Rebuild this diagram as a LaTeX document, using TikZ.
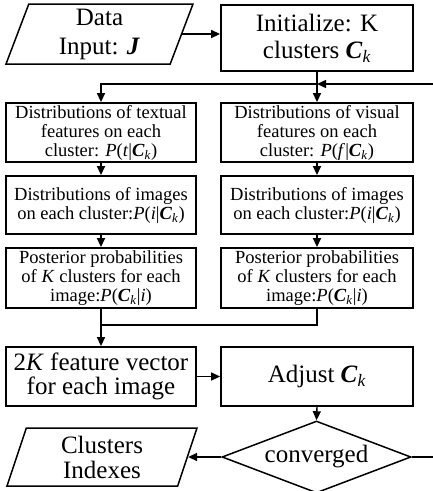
\documentclass[tikz,border=0pt]{standalone}
\usepackage{fontspec}
\setmainfont{Liberation Serif}
\usetikzlibrary{shapes.geometric,arrows.meta}
\newcommand{\Ck}{\textbf{\textit{C}}\textsubscript{\textit{k}}}
\begin{document}
\begin{tikzpicture}[x=1pt,y=-1pt,
  box/.style={draw, line width=1.8pt, inner sep=1pt, align=center},
  bigtxt/.style={font=\fontsize{25}{27}\selectfont},
  smalltxt/.style={font=\fontsize{18.5}{19}\selectfont},
  para/.style={draw, line width=1.5pt, trapezium, trapezium left angle=66.6, trapezium right angle=113.4, trapezium stretches body, inner sep=1pt, align=center},
  arr/.style={-{Triangle[length=9pt,width=8pt]}, line width=1.4pt},
  conn/.style={line width=1.4pt}]
\useasboundingbox (0,0) rectangle (432,491);
\fill[white] (0,0) rectangle (432,491);
% top
\node[para, bigtxt, font=\fontsize{25}{29}\selectfont, minimum width=187, minimum height=60] (data) at (99.5,34) {Data\\Input: \textbf{\textit{J}}};
\node[box, bigtxt, minimum width=192, minimum height=66] (init) at (317,38) {Initialize: K\\clusters \Ck};
% row 1
\node[box, smalltxt, minimum width=190, minimum height=59] (r1l) at (101,132.5) {Distributions of textual\\features on each\\cluster: \textit{P}(\textit{t}|\Ck)};
\node[box, smalltxt, minimum width=192, minimum height=59] (r1r) at (317,132.5) {Distributions of visual\\features on each\\cluster: \textit{P}(\textit{f}|\Ck)};
% row 2
\node[box, smalltxt, minimum width=190, minimum height=58] (r2l) at (101,205) {Distributions of images\\on each cluster:\textit{P}(\textit{i}|\Ck)};
\node[box, smalltxt, minimum width=192, minimum height=58] (r2r) at (317,205) {Distributions of images\\on each cluster:\textit{P}(\textit{i}|\Ck)};
% row 3
\node[box, smalltxt, minimum width=190, minimum height=60] (r3l) at (101,278) {Posterior probabilities\\of \textit{K} clusters for each\\image:\textit{P}(\Ck|\textit{i})};
\node[box, smalltxt, minimum width=192, minimum height=60] (r3r) at (317,278) {Posterior probabilities\\of \textit{K} clusters for each\\image:\textit{P}(\Ck|\textit{i})};
% row 4
\node[box, bigtxt, font=\fontsize{25}{24.5}\selectfont, minimum width=190, minimum height=59] (feat) at (101,376.5) {2\textit{K} feature vector\\for each image};
\node[box, bigtxt, minimum width=192, minimum height=59] (adj) at (317,376.5) {Adjust \Ck};
% bottom
\node[draw, line width=1.5pt, diamond, aspect=2.6, inner sep=0pt, minimum width=189, minimum height=72, bigtxt] (conv) at (316.5,457) {converged};
\node[para, bigtxt, font=\fontsize{25}{25}\selectfont, minimum width=190, minimum height=58] (clus) at (102,457) {Clusters\\Indexes};
% coordinates
\coordinate (split) at (317,84);
\coordinate (merge) at (101,325);
% connectors
\draw[arr] (data.east) -- (data.east -| init.west);
\draw[conn] (init.south) -- (split);
\draw[arr] (split) -- (r1r.north);
\draw[arr] (split) -| (r1l.north);
\draw[arr] (conv.east) -- ++(40,0) |- (split);
\draw[arr] (r1l.south) -- (r2l.north);
\draw[arr] (r1r.south) -- (r2r.north);
\draw[arr] (r2l.south) -- (r3l.north);
\draw[arr] (r2r.south) -- (r3r.north);
\draw[conn] (r3l.south) -- (merge);
\draw[conn] (r3r.south) |- (merge);
\draw[arr] (merge) -- (feat.north);
\draw[arr] (feat.east) -- (adj.west);
\draw[arr] (adj.south) -- (conv.north);
\draw[arr] (conv.west) -- (conv.west -| clus.east);
\end{tikzpicture}
\end{document}
